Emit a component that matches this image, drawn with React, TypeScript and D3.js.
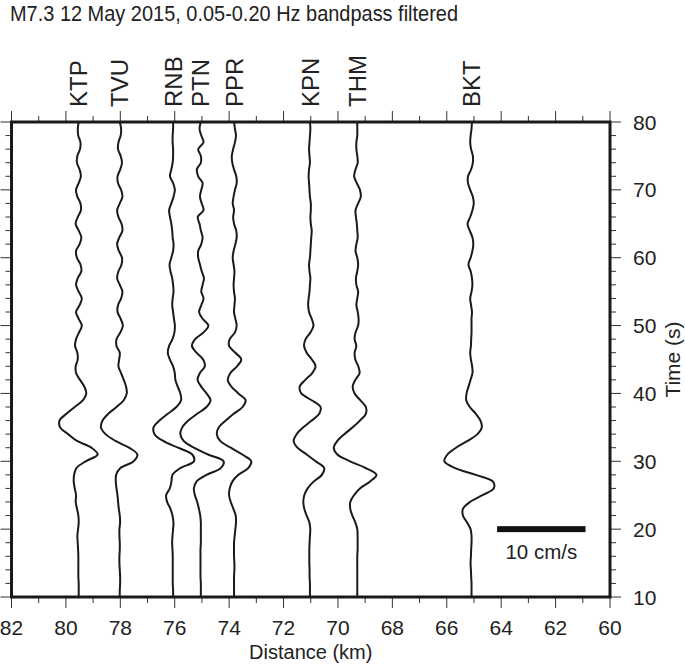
import React from "react";
import * as d3 from "d3";

// station names and epicentral distances (km)
const stations = ["KTP", "TVU", "RNB", "PTN", "PPR", "KPN", "THM", "BKT"];
const distances = [79.53, 78.02, 76.06, 75.04, 73.82, 71.03, 69.29, 65.09];

// velocity samples (cm/s), one per second from 10 s to 80 s
const sampleStart = 10;
const sampleStep = 1;

const ktp = [
  0, 0, 0, -0.04, -0.04, -0.04, -0.04, -0.07, -0.11, -0.15,
  -0.07, 0, -0.04, -0.19, -0.34, -0.3, -0.45, -0.56, -0.52, -0.26,
  0.79, 2.15, 1.45, -0.19, -1.2, -2.1, -2.17, -1.39, -0.45, 0.49,
  0.86, 0.64, 0.15, -0.3, -0.34, -0.11, -0.15, -0.41, -0.3, 0.04,
  0.35, 0.0, -0.3, 0.1, 0.35, 0.0, -0.3, -0.1, 0.3, 0.2,
  -0.2, -0.3, 0.1, 0.3, 0.0, -0.35, -0.1, 0.25, 0.2, -0.15,
  -0.3, 0.0, 0.25, 0.1, -0.2, -0.15, 0.15, 0.2, -0.05, -0.1, 0.0,
];
const tvu = [
  0, 0, 0.04, 0.04, 0, -0.04, -0.04, 0, 0, -0.04,
  -0.04, 0.04, 0, -0.11, -0.19, -0.26, -0.37, -0.45, -0.41, 0.07,
  1.57, 1.99, 1.05, -0.49, -1.61, -2.13, -1.95, -1.31, -0.37, 0.45,
  0.79, 0.71, 0.45, 0.15, -0.15, -0.07, 0, -0.37, -0.37, 0.07,
  0.35, 0.1, -0.25, -0.2, 0.15, 0.3, 0.0, -0.3, -0.15, 0.2,
  0.25, -0.1, -0.3, -0.05, 0.3, 0.2, -0.15, -0.3, 0.0, 0.3,
  0.15, -0.2, -0.25, 0.05, 0.25, 0.1, -0.2, -0.15, 0.1, 0.15, 0.0,
];
const rnb = [
  0, 0, -0.04, -0.04, -0.04, -0.04, -0.04, -0.07, -0.11, -0.07,
  0, 0.04, -0.07, -0.3, -0.67, -0.79, -0.37, -0.19, -0.07, 0.82,
  2.36, 2.17, 0.56, -1.12, -2.1, -2.21, -1.54, -0.6, 0.37, 0.9,
  0.82, 0.52, 0.26, 0.19, 0, -0.37, -0.6, -0.45, -0.07, 0.15,
  0.2, 0.1, 0.0, -0.1, -0.05, 0.05, 0.0, -0.1, -0.3, -0.4,
  -0.2, 0.0, 0.05, -0.05, -0.1, -0.2, -0.35, -0.45, -0.2, 0.05,
  0.2, 0.0, -0.35, -0.2, -0.05, 0.0, 0.0, -0.05, -0.05, 0.0, 0.0,
];
const ptn = [
  0, 0, 0, -0.04, -0.04, -0.04, -0.04, -0.04, 0, 0,
  0, 0, -0.07, -0.22, -0.41, -0.67, -0.79, -0.49, 0.64, 2.25,
  2.58, 0.82, -0.79, -1.95, -2.32, -2.1, -1.42, -0.41, 0.64, 1.09,
  0.64, 0.04, -0.37, -0.11, 0.45, 0.26, -0.49, -1.01, -0.64, 0.3,
  0.85, 0.2, -0.2, 0.05, 0.3, 0.05, 0.2, 0.35, 0.1, -0.1,
  -0.3, -0.3, 0.05, 0.2, 0.0, -0.15, -0.35, 0.3, 0.1, -0.1,
  0.05, 0.2, -0.3, -0.45, 0.0, 0.0, -0.3, 0.3, 0.05, -0.15, 0.0,
];
const ppr = [
  0, 0, 0, 0, 0.04, 0.04, 0, 0, 0, 0.07,
  0.15, 0.22, 0.19, -0.07, -0.37, -0.56, -0.49, -0.19, 0.49, 1.61,
  1.95, 0.94, -0.37, -1.57, -1.95, -1.72, -0.94, -0.04, 0.97, 1.31,
  0.49, -0.3, -0.71, -0.41, 0.34, 0.82, 0.15, -0.56, -0.49, 0.11,
  0.3, 0.15, 0.0, 0.05, 0.1, 0.0, -0.05, 0.0, 0.05, -0.05,
  -0.15, -0.05, 0.15, 0.3, 0.25, 0.0, -0.1, 0.0, -0.15, -0.05,
  0.1, 0.3, 0.25, 0.0, -0.2, -0.25, -0.1, 0.1, 0.22, 0.1, 0.0,
];
const kpn = [
  0, 0, 0, -0.04, -0.04, -0.07, -0.07, -0.07, -0.04, 0,
  0.04, -0.07, -0.37, -0.64, -0.75, -0.64, -0.26, 0.41, 1.35, 1.61,
  0.64, -0.37, -1.42, -1.84, -1.5, -0.75, 0.19, 1.05, 1.2, 0.19,
  -0.97, -1.16, -0.52, 0.26, 0.64, 0.22, -0.37, -0.67, -0.49, 0.07,
  0.4, 0.2, -0.1, -0.2, -0.15, -0.05, 0.0, 0.05, -0.05, -0.1,
  0.0, 0.05, 0.1, 0.15, 0.2, 0.1, 0.05, 0.1, 0.1, 0.0,
  -0.05, -0.1, -0.15, -0.1, 0.0, -0.05, -0.1, -0.05, 0.0, 0.05, 0.0,
];
const thm = [
  0, 0, 0, 0, 0, 0, 0, 0.04, 0.04, 0.04,
  0, -0.22, -0.56, -0.79, -0.79, -0.37, 0.3, 1.42, 2.17, 0.97,
  -0.82, -2.25, -2.66, -2.25, -1.46, -0.52, 0.3, 0.97, 0.97, 0.34,
  -0.3, -0.52, -0.22, 0.26, 0.11, -0.22, -0.3, -0.11, -0.3, -0.19,
  0.1, 0.15, 0.05, -0.1, 0.0, 0.1, -0.1, -0.15, 0.0, 0.1,
  0.0, -0.2, -0.1, 0.05, 0.0, -0.05, -0.15, -0.2, 0.1, 0.4,
  0.3, -0.05, -0.35, -0.2, 0.05, 0.0, -0.1, -0.1, 0.0, 0.0, 0.0,
];
const bkt = [
  0, 0, 0, -0.04, -0.07, -0.11, -0.07, -0.04, 0, 0,
  -0.11, -0.52, -0.97, -0.97, -0.19, 1.24, 2.51, 2.43, 0.49, -1.87,
  -3.07, -2.73, -1.76, -0.45, 0.67, 1.16, 1.01, 0.49, -0.19, -0.6,
  -0.56, -0.34, -0.11, 0.11, 0.07, -0.07, -0.15, -0.07, -0.04, 0,
  0.0, 0.0, 0.05, -0.05, -0.15, 0.0, 0.1, 0.05, -0.1, -0.35,
  -0.1, 0.1, 0.2, 0.1, -0.2, -0.45, -0.15, 0.1, 0.25, 0.15,
  -0.15, -0.4, -0.4, -0.05, 0.15, 0.15, -0.05, -0.15, -0.1, 0.0, 0.05,
];
const traces = [ktp, tvu, rnb, ptn, ppr, kpn, thm, bkt];

// axes
const distLabels = [82, 80, 78, 76, 74, 72, 70, 68, 66, 64, 62, 60];
const timeLabels = [10, 20, 30, 40, 50, 60, 70, 80];

// amplitude scale bar
const barValue = 10; // cm/s
const barStartKm = 64.15;
const barTime = 20;
const kmPerCms = 0.325;

const title = "M7.3 12 May 2015, 0.05-0.20 Hz bandpass filtered";

const W = 685;
const H = 664;
const frame = { left: 11.5, right: 610, top: 122, bottom: 597 };
const font = "'Liberation Sans', Arial, Helvetica, sans-serif";

const App = () => {
  const x = d3.scaleLinear().domain([82, 60]).range([frame.left, frame.right]);
  const y = d3.scaleLinear().domain([10, 80]).range([frame.bottom, frame.top]);

  const kmTicks = d3.range(60, 83, 1);
  const sTicks = d3.range(10, 81, 2);
  const major = 11;
  const minor = 6;

  const makeLine = (dist: number) =>
    d3
      .line<number>()
      .x((v) => x(dist - v * kmPerCms))
      .y((v, i) => y(sampleStart + i * sampleStep))
      .curve(d3.curveCatmullRom.alpha(0.5));

  return (
    <svg
      width={W}
      height={H}
      style={{ position: "absolute", left: 0, top: 0, background: "#fff" }}
      fontFamily={font}
    >
      <text x={10} y={21} fontSize={22} textLength={448} lengthAdjust="spacingAndGlyphs" fill="#222">
        {title}
      </text>

      {/* station names */}
      {stations.map((s, i) => (
        <text
          key={s}
          transform={`translate(${x(distances[i])},107) rotate(-90)`}
          dy="0.36em"
          fontSize={24}
          fill="#222"
        >
          {s}
        </text>
      ))}

      {/* ticks */}
      <g stroke="#333" strokeWidth={1}>
        {kmTicks.map((k) => {
          const len = k % 2 === 0 ? major : minor;
          return (
            <g key={"k" + k}>
              <line x1={x(k)} x2={x(k)} y1={frame.top} y2={frame.top - len} />
              <line x1={x(k)} x2={x(k)} y1={frame.bottom} y2={frame.bottom + len} />
            </g>
          );
        })}
        {sTicks.map((t) => {
          const len = t % 10 === 0 ? major : minor;
          return (
            <g key={"t" + t}>
              <line x1={frame.left} x2={frame.left - len} y1={y(t)} y2={y(t)} />
              <line x1={frame.right} x2={frame.right + len} y1={y(t)} y2={y(t)} />
            </g>
          );
        })}
      </g>

      {/* traces */}
      <g fill="none" stroke="#1a1a1a" strokeWidth={2}>
        {traces.map((tr, i) => (
          <path key={stations[i]} d={makeLine(distances[i])(tr) || ""} />
        ))}
      </g>

      <rect
        x={frame.left}
        y={frame.top}
        width={frame.right - frame.left}
        height={frame.bottom - frame.top}
        fill="none"
        stroke="#1a1a1a"
        strokeWidth={3}
      />

      {/* tick labels */}
      {distLabels.map((d) => (
        <text key={"dl" + d} x={x(d)} y={635} textAnchor="middle" fontSize={21} fill="#222">
          {d}
        </text>
      ))}
      {timeLabels.map((t) => (
        <text key={"tl" + t} x={633} y={y(t)} dy="0.36em" fontSize={21} fill="#222">
          {t}
        </text>
      ))}

      <text x={(frame.left + frame.right) / 2} y={659} textAnchor="middle" fontSize={20} fill="#222">
        Distance (km)
      </text>
      <text
        transform={`translate(680,${(frame.top + frame.bottom) / 2}) rotate(-90)`}
        textAnchor="middle"
        fontSize={21}
        fill="#222"
      >
        Time (s)
      </text>

      {/* scale bar */}
      <rect
        x={x(barStartKm)}
        y={y(barTime) - 3}
        width={x(barStartKm - barValue * kmPerCms) - x(barStartKm)}
        height={6}
        fill="#111"
      />
      <text
        x={(x(barStartKm) + x(barStartKm - barValue * kmPerCms)) / 2}
        y={559}
        textAnchor="middle"
        fontSize={20.5}
        fill="#222"
      >
        {barValue} cm/s
      </text>
    </svg>
  );
};

export default App;
